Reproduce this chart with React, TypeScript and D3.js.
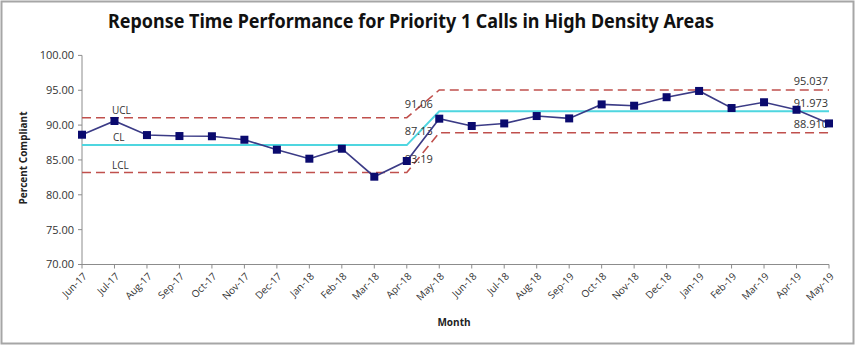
import React from "react";
import * as d3 from "d3";

const months = ["Jun-17","Jul-17","Aug-17","Sep-17","Oct-17","Nov-17","Dec-17","Jan-18","Feb-18","Mar-18","Apr-18","May-18","Jun-18","Jul-18","Aug-18","Sep-19","Oct-18","Nov-18","Dec.18","Jan-19","Feb-19","Mar-19","Apr-19","May-19"];
const compliance = [88.62,90.59,88.57,88.43,88.40,87.90,86.47,85.18,86.61,82.60,84.85,90.92,89.87,90.24,91.30,90.96,92.97,92.78,94.00,94.90,92.45,93.28,92.20,90.24];
const ucl = [91.06,91.06,91.06,91.06,91.06,91.06,91.06,91.06,91.06,91.06,91.06,95.037,95.037,95.037,95.037,95.037,95.037,95.037,95.037,95.037,95.037,95.037,95.037,95.037];
const cl = [87.13,87.13,87.13,87.13,87.13,87.13,87.13,87.13,87.13,87.13,87.13,91.973,91.973,91.973,91.973,91.973,91.973,91.973,91.973,91.973,91.973,91.973,91.973,91.973];
const lcl = [83.19,83.19,83.19,83.19,83.19,83.19,83.19,83.19,83.19,83.19,83.19,88.91,88.91,88.91,88.91,88.91,88.91,88.91,88.91,88.91,88.91,88.91,88.91,88.91];
const yTicks = [70,75,80,85,90,95,100];
const phase1Labels = ["91.06","87.13","83.19"];
const phase2Labels = ["95.037","91.973","88.910"];

const W = 860, H = 351;
const FONT = "'Open Sans', 'DejaVu Sans', sans-serif";

export default function App() {
  const x = d3.scalePoint<string>().domain(months).range([82, 829]);
  const y = d3.scaleLinear().domain([70, 100]).range([264.5, 55.4]);
  const line = d3.line<number>().x((_, i) => x(months[i])!).y(d => y(d));

  const axisColor = "#8c8c8c";
  const lastM = months[months.length - 1];
  const p1End = months[10];

  return (
    <svg width={W} height={H} style={{ position: "absolute", left: 0, top: 0 }}>
      <rect x={0} y={0} width={W} height={H} fill="#fff" />
      <rect x={1.5} y={1.5} width={852} height={342} fill="#fff" stroke="#a6a6a6" strokeWidth={2} />
      <text x={411} y={28} textAnchor="middle" fontFamily="'Noto Sans', 'DejaVu Sans', sans-serif" fontWeight="bold" fontSize={19} textLength={606} lengthAdjust="spacingAndGlyphs" fill="#111">
        Reponse Time Performance for Priority 1 Calls in High Density Areas
      </text>

      {/* y axis */}
      <line x1={82} x2={82} y1={y(100)} y2={y(70)} stroke={axisColor} />
      {yTicks.map(t => (
        <g key={t}>
          <line x1={78} x2={82} y1={y(t)} y2={y(t)} stroke={axisColor} />
          <text x={74} y={y(t)} dy="0.35em" textAnchor="end" fontFamily={FONT} fontSize={11} fill="#333">{t.toFixed(2)}</text>
        </g>
      ))}
      {/* x axis */}
      <line x1={82} x2={829} y1={y(70)} y2={y(70)} stroke={axisColor} />
      {months.map(m => (
        <g key={m}>
          <line x1={x(m)} x2={x(m)} y1={y(70)} y2={y(70) + 4} stroke={axisColor} />
          <text transform={`translate(${x(m)! + 3},${y(70) + 10}) rotate(-45)`} textAnchor="end" dy="0.35em" fontFamily={FONT} fontSize={10} fill="#333">{m}</text>
        </g>
      ))}

      <text transform={`translate(27,158) rotate(-90)`} textAnchor="middle" fontFamily={FONT} fontWeight="bold" fontSize={10} fill="#222">Percent Compliant</text>
      <text x={454} y={326} textAnchor="middle" fontFamily={FONT} fontWeight="bold" fontSize={10} fill="#222">Month</text>

      {/* control lines */}
      <path d={line(ucl)!} fill="none" stroke="#c0504d" strokeWidth={1.6} strokeDasharray="9,5" />
      <path d={line(lcl)!} fill="none" stroke="#c0504d" strokeWidth={1.6} strokeDasharray="9,5" />
      <path d={line(cl)!} fill="none" stroke="#4fd6e0" strokeWidth={2} />

      {/* labels */}
      <text x={112} y={y(ucl[0]) - 4} fontFamily={FONT} fontSize={10} fill="#333">UCL</text>
      <text x={113} y={y(cl[0]) - 4} fontFamily={FONT} fontSize={10} fill="#333">CL</text>
      <text x={112} y={y(lcl[0]) - 4} fontFamily={FONT} fontSize={10} fill="#333">LCL</text>
      {[ucl[0], cl[0], lcl[0]].map((v, i) => (
        <text key={i} x={x(p1End)! + 26} y={y(v) - 10} textAnchor="end" fontFamily={FONT} fontSize={11} fill="#333">{phase1Labels[i]}</text>
      ))}
      {[ucl[23], cl[23], lcl[23]].map((v, i) => (
        <text key={i} x={x(lastM)! - 1} y={y(v) - 4.5} textAnchor="end" fontFamily={FONT} fontSize={11} fill="#333">{phase2Labels[i]}</text>
      ))}

      {/* data */}
      <path d={line(compliance)!} fill="none" stroke="#3b3b86" strokeWidth={1.6} />
      {compliance.map((v, i) => (
        <rect key={i} x={x(months[i])! - 4} y={y(v) - 4} width={8} height={8} fill="#0a0a6e" />
      ))}
    </svg>
  );
}
